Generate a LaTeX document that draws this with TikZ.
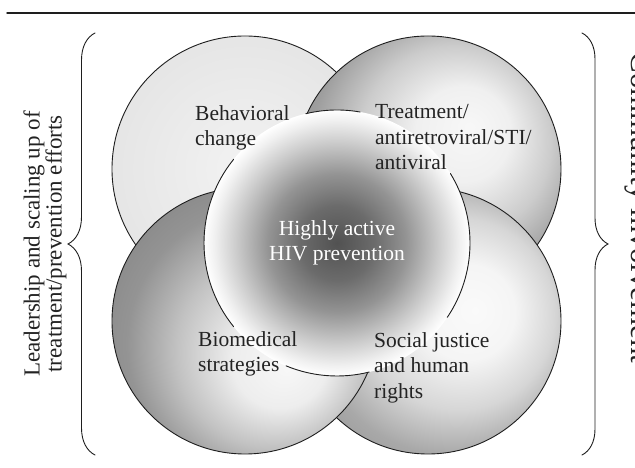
\documentclass[tikz,border=0pt]{standalone}
\usepackage{fontspec}
\setmainfont{Liberation Serif}
\usepackage{tikz}
\usetikzlibrary{decorations.pathreplacing}
\definecolor{ringline}{RGB}{30,30,30}
\definecolor{labelink}{RGB}{35,35,35}
\newcommand\ringfont{\fontsize{21.5}{25.5}\selectfont}
% ball-like fills, light spot pushed off centre
\pgfdeclareradialshading{flatball}{\pgfpointorigin}{color(0bp)=(black!5); color(25bp)=(black!10); color(50bp)=(black!10)}
\pgfdeclareradialshading{ballne}{\pgfpoint{8bp}{8bp}}{color(0bp)=(black!3); color(9bp)=(black!6); color(18bp)=(black!20); color(26bp)=(black!38); color(34bp)=(black!46); color(50bp)=(black!48)}
\pgfdeclareradialshading{ballee}{\pgfpoint{9bp}{2bp}}{color(0bp)=(black!2); color(9bp)=(black!4); color(18bp)=(black!16); color(26bp)=(black!34); color(34bp)=(black!42); color(50bp)=(black!44)}
\pgfdeclareradialshading{ballsw}{\pgfpoint{8bp}{-9bp}}{color(0bp)=(black!3); color(9bp)=(black!7); color(18bp)=(black!24); color(26bp)=(black!42); color(34bp)=(black!48); color(50bp)=(black!50)}
\pgfdeclareradialshading{hubglow}{\pgfpointorigin}{color(0bp)=(black!68); color(7bp)=(black!58); color(13bp)=(black!42); color(19bp)=(black!20); color(23bp)=(black!6); color(25bp)=(white); color(50bp)=(white)}

\begin{document}
\begin{tikzpicture}[x=1pt,y=1pt,line cap=round]
\tikzset{
 ring/.style={draw=ringline,line width=.9pt},
 lbl/.style={font=\ringfont,text=labelink,align=left,inner sep=0pt,anchor=north west},
 curly/.style={draw=ringline,line width=.9pt,decorate,decoration={brace,amplitude=27pt}}
}
\useasboundingbox (0,0) rectangle (635,468);
\draw[ringline,line width=1.5pt] (7,455) -- (635,455);

% four outer circles, back to front
\coordinate (behav) at (245,299);
\coordinate (treat) at (428,299);
\coordinate (social) at (428,147);
\coordinate (biomed) at (245,147);
\coordinate (hub) at (337,225);
\foreach \c/\sh in {behav/flatball,treat/ballne,social/ballee,biomed/ballsw}
 \shade[ring,shading=\sh] (\c) circle[radius=133];

% centre circle, outline broken at the labels
\shade[shading=hubglow] (hub) circle[radius=133];
\foreach \a/\b in {80/103.6,141/219,247.5/284,-34/31.5}
 \draw[ring] (hub) ++(\a:133) arc[start angle=\a,end angle=\b,radius=133];

\node[lbl] (behavtxt) at (195,362.7) {Behavioral\\change};
\node[lbl] (treattxt) at (375,363.5) {Treatment/\\antiretroviral/STI/\\antiviral};
\node[lbl] (biomedtxt) at (198,136.7) {Biomedical\\strategies};
\node[lbl] (socialtxt) at (374,135.7) {Social justice\\and human\\rights};
\node[font=\ringfont,text=white,align=center,inner sep=0pt] (hubtxt) at (hub) {Highly active\\HIV prevention};

% side braces
\draw[curly] (95,13) -- (95,435);
\draw[curly,decoration={amplitude=26pt}] (582,435) -- (582,13);
\node[font=\fontsize{23}{19}\selectfont,text=labelink,align=center,rotate=90,inner sep=0pt] (leadtxt) at (45,224)
 {Leadership and scaling up of\\treatment/prevention efforts};
\node[font=\fontsize{31}{36}\selectfont,text=labelink,rotate=-90,anchor=base,inner sep=0pt] (commtxt) at (631,260)
 {Community involvement};
\end{tikzpicture}
\end{document}
